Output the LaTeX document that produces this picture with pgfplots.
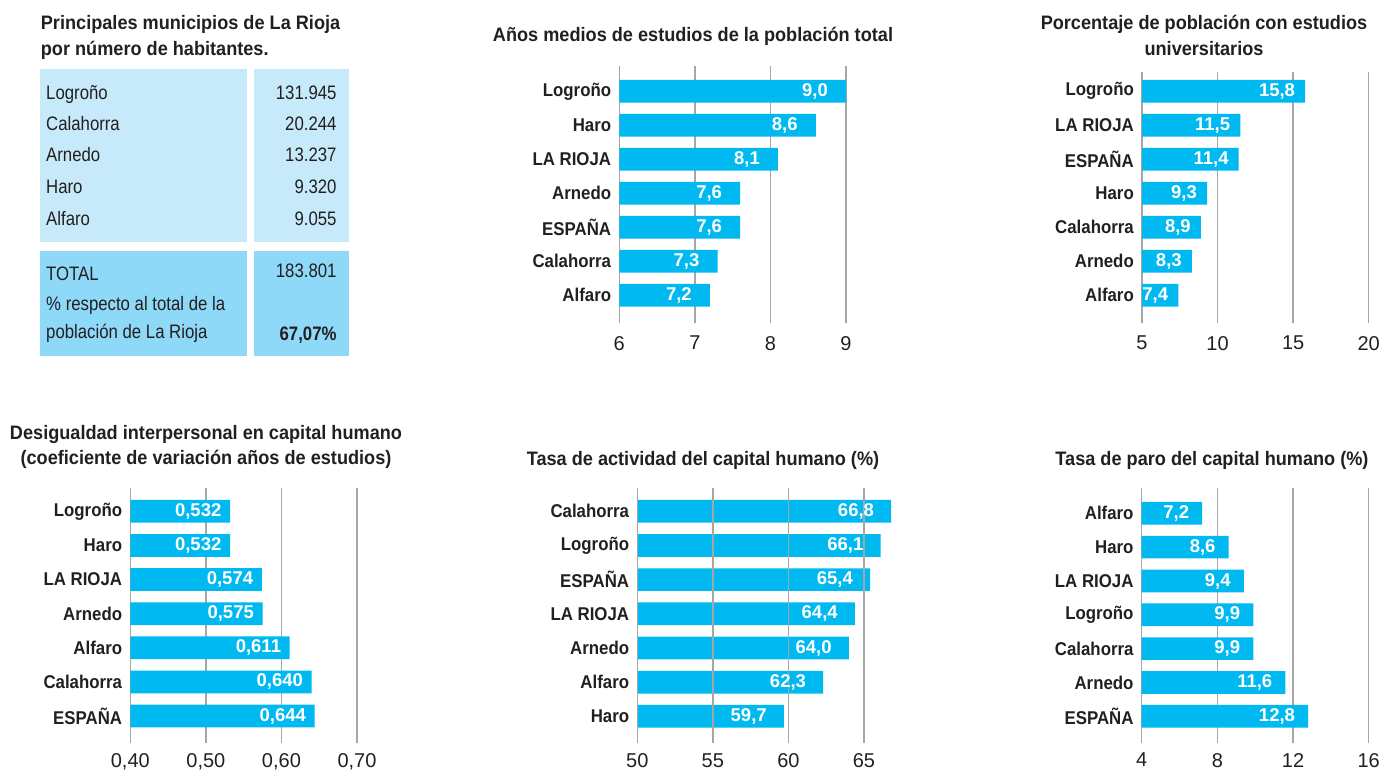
\documentclass[border=0pt]{standalone}
\usepackage{pgfplots}
\pgfplotsset{compat=1.18}
\usepackage{fontspec}
\setmainfont{Liberation Sans}
\newfontfamily\narrowfam{Liberation Sans}[FakeStretch=0.86]
\newfontfamily\catfam{Liberation Sans}[FakeStretch=0.91]
\newfontfamily\titlefam{Liberation Sans}[FakeStretch=0.93]
\newcommand\catfont{\catfam\bfseries\fontsize{18.5}{20}\selectfont}
\newcommand\titlefont{\titlefam\bfseries\fontsize{19.5}{22}\selectfont}
\newcommand\tabfont{\narrowfam\fontsize{19.5}{22}\selectfont}
\newcommand\tabbfont{\narrowfam\bfseries\fontsize{19.5}{22}\selectfont}
\newcommand\tickfont{\fontsize{20}{22}\selectfont}
\newcommand\valfont{\bfseries\fontsize{18.5}{20}\selectfont}
\definecolor{barcyan}{HTML}{00B9F1}
\definecolor{boxlight}{HTML}{C7EAFA}
\definecolor{boxdark}{HTML}{8ED8F8}
\definecolor{txt}{HTML}{231F20}
\definecolor{gridgray}{HTML}{A6A6A6}
\pgfplotsset{panel/.style={
  scale only axis, xbar, bar width=22.7pt, y dir=reverse,
  axis line style={draw=none}, major tick length=0pt,
  xmajorgrids, grid style={line width=1.3pt, color=gridgray},
  ytick={0,...,6},
  yticklabel style={font=\catfont, text=txt, anchor=east, inner sep=0pt, xshift=-8pt},
  xticklabel style={font=\tickfont, text=txt, anchor=north, inner sep=0pt, yshift=-13pt},
  point meta=explicit symbolic, nodes near coords,
  every node near coord/.append style={font=\valfont, text=white, anchor=east, inner sep=0pt},
  anchor=south west},
  lowrow/.style={xticklabel style={yshift=3pt}}}
\begin{document}
\begin{tikzpicture}
\path[use as bounding box] (0pt,0pt) rectangle (1381pt,-769pt);
% ---------- table panel ----------
\node[anchor=base west, font=\titlefont, text=txt, inner sep=0pt] at (40.7pt,-29.3pt) {Principales municipios de La Rioja};
\node[anchor=base west, font=\titlefont, text=txt, inner sep=0pt] at (40.7pt,-55pt) {por número de habitantes.};
\fill[boxlight] (40pt,-69pt) rectangle (246.7pt,-242.3pt);
\fill[boxlight] (254pt,-69pt) rectangle (348.7pt,-242.3pt);
\fill[boxdark] (40pt,-250.7pt) rectangle (246.7pt,-355.7pt);
\fill[boxdark] (254pt,-250.7pt) rectangle (348.7pt,-355.7pt);
\begin{scope}[every node/.style={font=\tabfont, text=txt, inner sep=0pt}]
\node[anchor=base west] at (46pt,-99.3pt) {Logroño};
\node[anchor=base west] at (46pt,-130.3pt) {Calahorra};
\node[anchor=base west] at (46pt,-161.7pt) {Arnedo};
\node[anchor=base west] at (46pt,-193.5pt) {Haro};
\node[anchor=base west] at (46pt,-225pt) {Alfaro};
\node[anchor=base east] at (336.7pt,-99.3pt) {131.945};
\node[anchor=base east] at (336.7pt,-130.3pt) {20.244};
\node[anchor=base east] at (336.7pt,-161.7pt) {13.237};
\node[anchor=base east] at (336.7pt,-193.5pt) {9.320};
\node[anchor=base east] at (336.7pt,-225pt) {9.055};
\node[anchor=base west] at (46pt,-280pt) {TOTAL};
\node[anchor=base west] at (46pt,-310.7pt) {\% respecto al total de la};
\node[anchor=base west] at (46pt,-338pt) {población de La Rioja};
\node[anchor=base east] at (336.7pt,-277.3pt) {183.801};
\node[anchor=base east, font=\tabbfont] at (336.7pt,-340pt) {67,07\%};
\end{scope}
% ---------- titles ----------
\begin{scope}[every node/.style={font=\titlefont, text=txt, inner sep=0pt, anchor=base}]
\node at (693pt,-41pt) {Años medios de estudios de la población total};
\node at (1204pt,-29.3pt) {Porcentaje de población con estudios};
\node at (1204pt,-55pt) {universitarios};
\node at (206pt,-439pt) {Desigualdad interpersonal en capital humano};
\node at (206pt,-464.3pt) {(coeficiente de variación años de estudios)};
\node at (703pt,-465pt) {Tasa de actividad del capital humano (\%)};
\node at (1212pt,-465pt) {Tasa de paro del capital humano (\%)};
\end{scope}
% ---------- panel 2 ----------
\begin{axis}[panel, at={(619.3pt,-323pt)}, width=226.7pt, height=257pt,
  xmin=6, xmax=9, ymin=-0.744, ymax=6.815,
  xtick={6,7,8,9}, xticklabels={6,7,8,9},
  yticklabels={Logroño,Haro,LA RIOJA,Arnedo,ESPAÑA,Calahorra,Alfaro},
  every node near coord/.append style={xshift=-18pt}]
\addplot[fill=barcyan, draw=none] table[meta=l] {
x y l
9.0 0 9,0
8.6 1 8,6
8.1 2 8,1
7.6 3 7,6
7.6 4 7,6
7.3 5 7,3
7.2 6 7,2
};
\end{axis}
% ---------- panel 3 ----------
\begin{axis}[panel, at={(1142pt,-323pt)}, width=226.7pt, height=251.3pt,
  xmin=5, xmax=20, ymin=-0.576, ymax=6.815,
  xtick={5,10,15,20}, xticklabels={5,10,15,20},
  yticklabels={Logroño,LA RIOJA,ESPAÑA,Haro,Calahorra,Arnedo,Alfaro},
  every node near coord/.append style={xshift=-10pt}]
\addplot[fill=barcyan, draw=none] table[meta=l] {
x y l
15.8 0 15,8
11.5 1 11,5
11.4 2 11,4
9.3 3 9,3
8.9 4 8,9
8.3 5 8,3
7.4 6 7,4
};
\end{axis}
% ---------- panel 4 ----------
\begin{axis}[panel, lowrow, at={(130.3pt,-743.3pt)}, width=226.7pt, height=255pt,
  xmin=0.4, xmax=0.7, ymin=-0.674, ymax=6.80,
  xtick={0.4,0.5,0.6,0.7}, xticklabels={{0,40},{0,50},{0,60},{0,70}},
  yticklabels={Logroño,Haro,LA RIOJA,Arnedo,Alfaro,Calahorra,ESPAÑA},
  every node near coord/.append style={xshift=-8.5pt}]
\addplot[fill=barcyan, draw=none] table[meta=l] {
x y l
0.532 0 0,532
0.532 1 0,532
0.574 2 0,574
0.575 3 0,575
0.611 4 0,611
0.640 5 0,640
0.644 6 0,644
};
\end{axis}
% ---------- panel 5 ----------
\begin{axis}[panel, lowrow, axis on top, at={(637.3pt,-743.3pt)}, width=256.9pt, height=255pt,
  xmin=50, xmax=67, ymin=-0.673, ymax=6.79,
  xtick={50,55,60,65}, xticklabels={50,55,60,65},
  yticklabels={Calahorra,Logroño,ESPAÑA,LA RIOJA,Arnedo,Alfaro,Haro},
  every node near coord/.append style={xshift=-17pt}]
\addplot[fill=barcyan, draw=none] table[meta=l] {
x y l
66.8 0 66,8
66.1 1 66,1
65.4 2 65,4
64.4 3 64,4
64.0 4 64,0
62.3 5 62,3
59.7 6 59,7
};
\end{axis}
% ---------- panel 6 ----------
\begin{axis}[panel, lowrow, at={(1141.7pt,-743pt)}, width=227pt, height=254.7pt,
  xmin=4, xmax=16, ymin=-0.739, ymax=6.79,
  xtick={4,8,12,16}, xticklabels={4,8,12,16},
  yticklabels={Alfaro,Haro,LA RIOJA,Logroño,Calahorra,Arnedo,ESPAÑA},
  every node near coord/.append style={xshift=-13pt}]
\addplot[fill=barcyan, draw=none] table[meta=l] {
x y l
7.2 0 7,2
8.6 1 8,6
9.4 2 9,4
9.9 3 9,9
9.9 4 9,9
11.6 5 11,6
12.8 6 12,8
};
\end{axis}
\end{tikzpicture}
\end{document}
